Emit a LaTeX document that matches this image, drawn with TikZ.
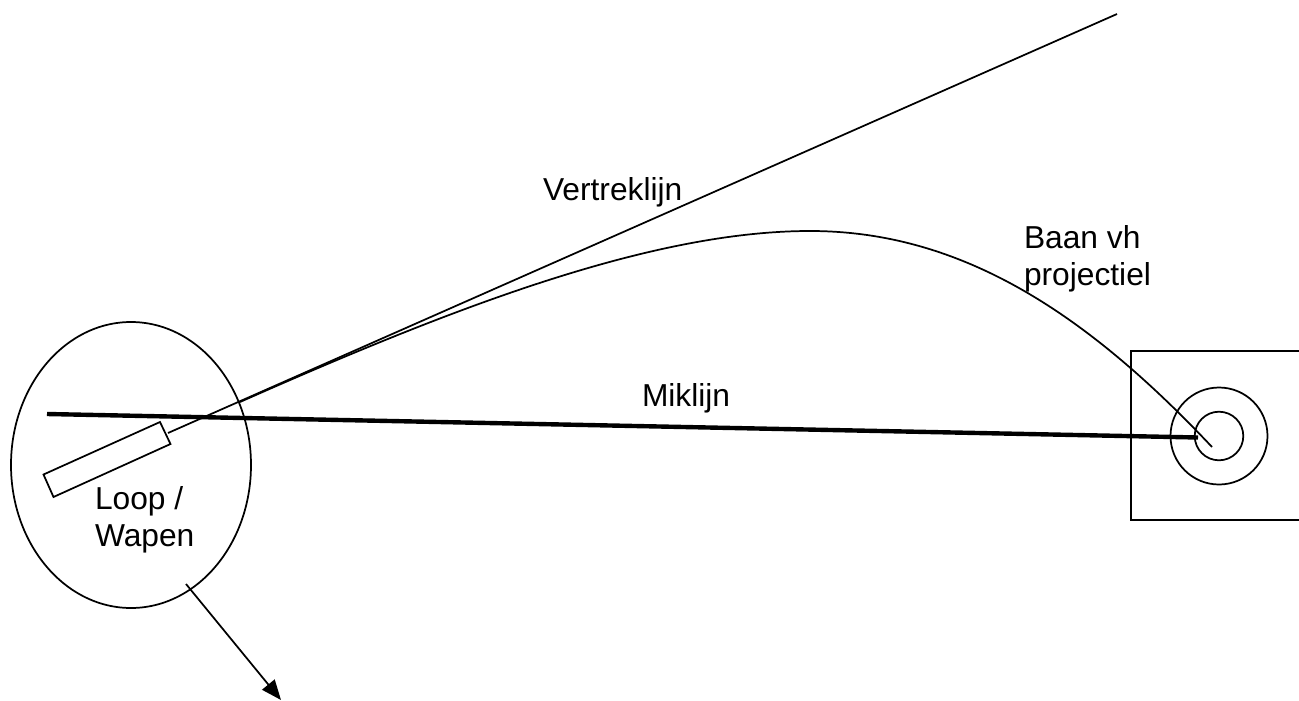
\documentclass[tikz,border=0pt]{standalone}
\usepackage{fontspec}
\setmainfont{Liberation Sans}
\usetikzlibrary{arrows.meta}
\tikzset{
  thin line/.style={draw=black,line width=1.3pt},
  aim line/.style={draw=black,line width=3.3pt},
  lbl/.style={anchor=base west,inner sep=0pt,outer sep=0pt,font=\fontsize{23.8}{27.7}\selectfont,text=black}
}
\begin{document}
\begin{tikzpicture}[x=0.75pt,y=-0.75pt]
\useasboundingbox (0,0) rectangle (1299,700);
% target
\coordinate (tc) at (1219,436);
\draw[thin line] (1299,351) -- (1131,351) -- (1131,520) -- (1299,520);
\draw[thin line] (tc) circle [radius=48.5];
\draw[thin line] (tc) circle [radius=24.3];
% weapon
\draw[thin line] (131,465) ellipse [x radius=120,y radius=143];
\draw[thin line] (43.5,474.5) -- (160,422) -- (170.5,444) -- (53.5,497) -- cycle;
% lines
\coordinate (muzzle) at (168,433);
\coordinate (far) at (1117,14);
\coordinate (trajA) at (240,402);
\coordinate (peak) at (810,231);
\coordinate (hit) at (1212,447);
\coordinate (aimS) at (47,414);
\coordinate (aimE) at (1198,437.5);
\coordinate (arrS) at (186,584);
\coordinate (arrE) at (281,700);
\draw[thin line] (muzzle) -- (far);
\draw[thin line] (trajA) .. controls (450,309) and (650,231) .. (peak) .. controls (960,231) and (1085,312) .. (hit);
\draw[aim line] (aimS) -- (aimE);
\draw[thin line,-{Triangle[length=15pt,width=12pt]}] (arrS) -- (arrE);
% labels
\node[lbl] (v) at (543,200) {Vertreklijn};
\node[lbl] (b1) at (1024,248) {Baan vh};
\node[lbl] (b2) at (1024,285) {projectiel};
\node[lbl] (m) at (642,406) {Miklijn};
\node[lbl] (l1) at (95,509) {Loop /};
\node[lbl] (l2) at (95,546) {Wapen};
\end{tikzpicture}
\end{document}
